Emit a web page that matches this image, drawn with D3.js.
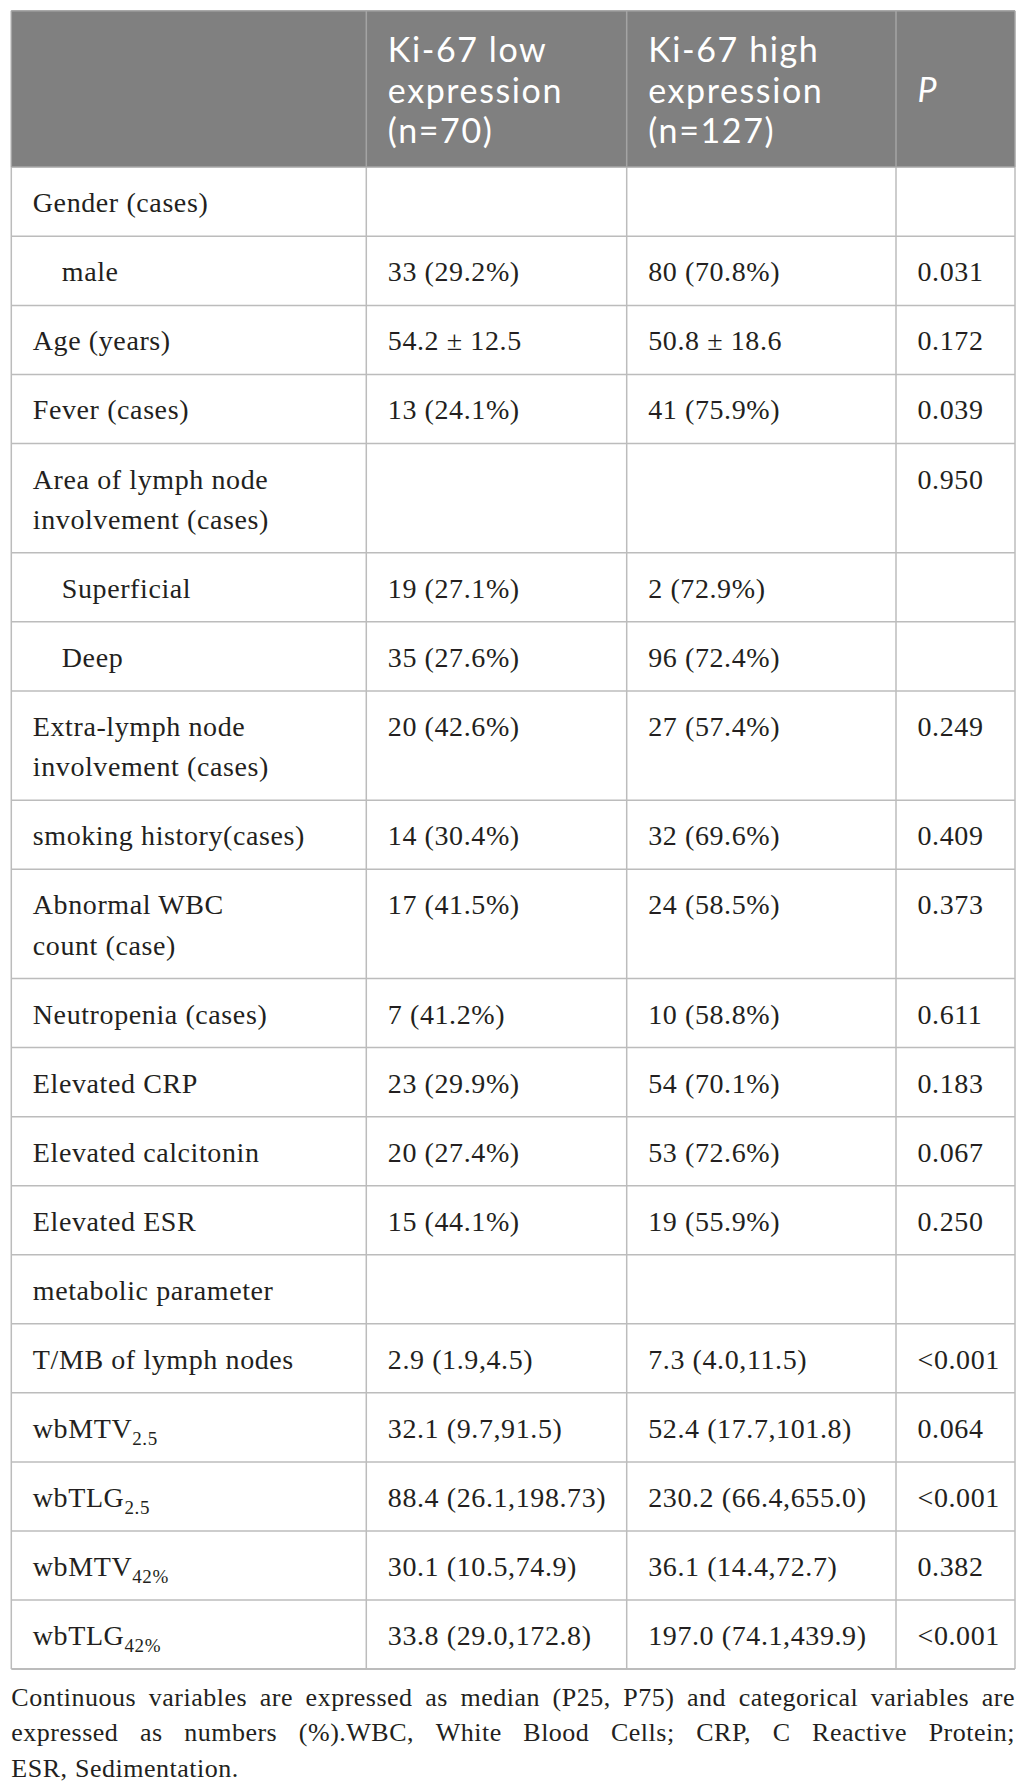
<!DOCTYPE html>
<html>
<head>
<meta charset="utf-8">
<script src="https://cdn.jsdelivr.net/npm/d3@7"></script>
<style>
  html, body { margin: 0; padding: 0; background: #fff; }
  svg { display: block; }
</style>
</head>
<body>
<div id="chart"></div>
<script>
// ---------- DATA ----------
const headerLines = [
  [],
  ["Ki-67 low", "expression", "(n=70)"],
  ["Ki-67 high", "expression", "(n=127)"],
  ["P"]
];

const rowLabels = [
  ["Gender (cases)"],
  ["male"],
  ["Age (years)"],
  ["Fever (cases)"],
  ["Area of lymph node", "involvement (cases)"],
  ["Superficial"],
  ["Deep"],
  ["Extra-lymph node", "involvement (cases)"],
  ["smoking history(cases)"],
  ["Abnormal WBC", "count (case)"],
  ["Neutropenia (cases)"],
  ["Elevated CRP"],
  ["Elevated calcitonin"],
  ["Elevated ESR"],
  ["metabolic parameter"],
  ["T/MB of lymph nodes"],
  ["wbMTV"],
  ["wbTLG"],
  ["wbMTV"],
  ["wbTLG"]
];
const rowLabelSubs = ["", "", "", "", "", "", "", "", "", "", "", "", "", "", "", "", "2.5", "2.5", "42%", "42%"];
const rowIndented = [false, true, false, false, false, true, true, false, false, false, false, false, false, false, false, false, false, false, false, false];

const lowValues = ["", "33 (29.2%)", "54.2 ± 12.5", "13 (24.1%)", "", "19 (27.1%)", "35 (27.6%)", "20 (42.6%)", "14 (30.4%)", "17 (41.5%)", "7 (41.2%)", "23 (29.9%)", "20 (27.4%)", "15 (44.1%)", "", "2.9 (1.9,4.5)", "32.1 (9.7,91.5)", "88.4 (26.1,198.73)", "30.1 (10.5,74.9)", "33.8 (29.0,172.8)"];
const highValues = ["", "80 (70.8%)", "50.8 ± 18.6", "41 (75.9%)", "", "2 (72.9%)", "96 (72.4%)", "27 (57.4%)", "32 (69.6%)", "24 (58.5%)", "10 (58.8%)", "54 (70.1%)", "53 (72.6%)", "19 (55.9%)", "", "7.3 (4.0,11.5)", "52.4 (17.7,101.8)", "230.2 (66.4,655.0)", "36.1 (14.4,72.7)", "197.0 (74.1,439.9)"];
const pValues = ["", "0.031", "0.172", "0.039", "0.950", "", "", "0.249", "0.409", "0.373", "0.611", "0.183", "0.067", "0.250", "", "<0.001", "0.064", "<0.001", "0.382", "<0.001"];

const captionLines = [
  "Continuous variables are expressed as median (P25, P75) and categorical variables are",
  "expressed as numbers (%).WBC, White Blood Cells; CRP, C Reactive Protein;",
  "ESR, Sedimentation."
];

// ---------- LAYOUT ----------
const W = 1026, H = 1791;
const colEdges = [11.3, 366.3, 626.7, 896, 1015];
const padX = 21.5, indentX = 29;
const tableTop = 10.7, headerH = 156.6;
const bodyLineH = 40.25, bodyPad = 28.8, bodyBase = 45;
const headLineH = 40.8, headBase = 51;
const serif = "'Liberation Serif', 'Times New Roman', serif";
const sans = "Lato, 'Open Sans', sans-serif";
const ink = "#231f20";
const gridColor = "#bcbcbc";

const svg = d3.select("#chart").append("svg")
  .attr("width", W).attr("height", H)
  .attr("viewBox", `0 0 ${W} ${H}`);
svg.append("rect").attr("width", W).attr("height", H).attr("fill", "#fff");

// column scales (column index -> edges)
const colIdx = d3.range(colEdges.length - 1);
const xLeft = d3.scaleOrdinal().domain(colIdx).range(colEdges.slice(0, -1));

// row geometry
const nLines = rowLabels.map(l => l.length);
const rowH = nLines.map(n => bodyPad + bodyLineH * n);
const rowTops = [tableTop + headerH, ...d3.cumsum(rowH).map(c => tableTop + headerH + c)];
const tableBottom = rowTops[rowTops.length - 1];
const yRow = d3.scaleOrdinal().domain(d3.range(rowLabels.length)).range(rowTops.slice(0, -1));

// header background
svg.append("rect")
  .attr("x", colEdges[0]).attr("y", tableTop)
  .attr("width", colEdges[colEdges.length - 1] - colEdges[0])
  .attr("height", headerH)
  .attr("fill", "#808080");

// header text
const headerMid = tableTop + headerH / 2;
colIdx.forEach(ci => {
  const lines = headerLines[ci];
  if (!lines.length) return;
  const firstBase = lines.length === 3 ? tableTop + headBase : headerMid + 12.5 - (lines.length - 1) * headLineH / 2;
  lines.forEach((ln, k) => {
    svg.append("text")
      .attr("font-family", sans)
      .attr("font-size", 34)
      .attr("letter-spacing", ci === 3 ? 0 : 1.6)
      .attr("fill", "#fff")
      .attr("font-style", ci === 3 ? "italic" : "normal")
      .attr("x", xLeft(ci) + padX)
      .attr("y", firstBase + k * headLineH)
      .text(ln);
  });
});

// grid lines
const grid = svg.append("g").attr("stroke", gridColor).attr("stroke-width", 1.5).attr("fill", "none");
rowTops.forEach((y, i) => {
  grid.append("line")
    .attr("x1", colEdges[0]).attr("x2", colEdges[colEdges.length - 1])
    .attr("y1", y).attr("y2", y)
    .attr("stroke-width", i === rowTops.length - 1 ? 2 : 1.5);
});
grid.append("line")
  .attr("x1", colEdges[0]).attr("x2", colEdges[colEdges.length - 1])
  .attr("y1", tableTop).attr("y2", tableTop)
  .attr("stroke", "#a8a8a8");
colEdges.forEach(x => {
  grid.append("line")
    .attr("x1", x).attr("x2", x)
    .attr("y1", tableTop + headerH).attr("y2", tableBottom);
  grid.append("line")
    .attr("x1", x).attr("x2", x)
    .attr("y1", tableTop).attr("y2", tableTop + headerH)
    .attr("stroke", "#a4a4a4");
});

// body text
const body = svg.append("g")
  .attr("font-family", serif)
  .attr("font-size", 28)
  .attr("letter-spacing", 0.6)
  .attr("fill", ink);

rowLabels.forEach((lines, ri) => {
  const top = yRow(ri);
  lines.forEach((ln, k) => {
    const t = body.append("text")
      .attr("x", xLeft(0) + padX + (rowIndented[ri] ? indentX : 0))
      .attr("y", top + bodyBase + k * bodyLineH)
      .text(ln);
    if (k === lines.length - 1 && rowLabelSubs[ri]) {
      t.append("tspan")
        .attr("font-size", 19)
        .attr("dy", 7)
        .text(rowLabelSubs[ri]);
    }
  });
  [lowValues, highValues, pValues].forEach((arr, vi) => {
    const v = arr[ri];
    if (!v) return;
    body.append("text")
      .attr("x", xLeft(vi + 1) + padX)
      .attr("y", top + bodyBase)
      .text(v);
  });
});

// caption (justified)
const capLeft = colEdges[0], capRight = colEdges[colEdges.length - 1];
const capBases = [1706, 1741, 1776.5];
const cap = svg.append("g")
  .attr("font-family", serif)
  .attr("font-size", 26)
  .attr("letter-spacing", 0.5)
  .attr("fill", ink);
captionLines.forEach((line, li) => {
  const words = line.split(" ");
  const last = li === captionLines.length - 1;
  const nodes = words.map(w => cap.append("text").attr("y", capBases[li]).text(w));
  const widths = nodes.map(n => n.node().getComputedTextLength());
  const total = d3.sum(widths);
  const gap = last ? 7.5 : (capRight - capLeft - total) / (words.length - 1);
  let x = capLeft;
  nodes.forEach((n, i) => {
    n.attr("x", x);
    x += widths[i] + gap;
  });
});
</script>
</body>
</html>
